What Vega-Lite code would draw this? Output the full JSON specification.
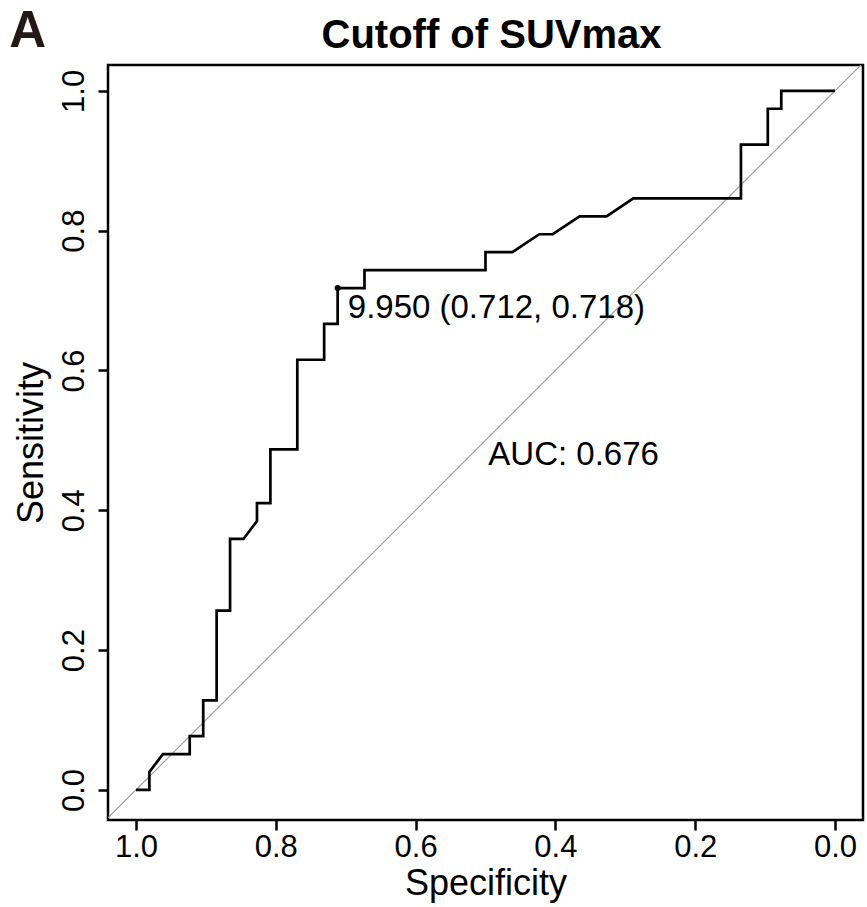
{
  "$schema": "https://vega.github.io/schema/vega-lite/v6.json",
  "width": 755,
  "height": 755,
  "autosize": "none",
  "padding": {"left": 108, "top": 65, "right": 4, "bottom": 87},
  "background": "white",
  "view": {"stroke": "black", "strokeWidth": 2.5, "fill": "white"},
  "config": {"font": "Liberation Sans"},
  "title": {
    "text": "Cutoff of SUVmax",
    "font": "Liberation Sans",
    "fontSize": 40,
    "fontWeight": "bold",
    "color": "black",
    "anchor": "middle",
    "frame": "group",
    "offset": -50,
    "dx": 6
  },
  "datasets": {
    "roc": [
      {"i": 1, "spec": 1.0, "sens": 0.0},
      {"i": 2, "spec": 0.9808, "sens": 0.0},
      {"i": 3, "spec": 0.9808, "sens": 0.0256},
      {"i": 4, "spec": 0.9615, "sens": 0.0513},
      {"i": 5, "spec": 0.9231, "sens": 0.0513},
      {"i": 6, "spec": 0.9231, "sens": 0.0769},
      {"i": 7, "spec": 0.9038, "sens": 0.0769},
      {"i": 8, "spec": 0.9038, "sens": 0.1282},
      {"i": 9, "spec": 0.8846, "sens": 0.1282},
      {"i": 10, "spec": 0.8846, "sens": 0.2564},
      {"i": 11, "spec": 0.8654, "sens": 0.2564},
      {"i": 12, "spec": 0.8654, "sens": 0.359},
      {"i": 13, "spec": 0.8462, "sens": 0.359},
      {"i": 14, "spec": 0.8269, "sens": 0.3846},
      {"i": 15, "spec": 0.8269, "sens": 0.4103},
      {"i": 16, "spec": 0.8077, "sens": 0.4103},
      {"i": 17, "spec": 0.8077, "sens": 0.4872},
      {"i": 18, "spec": 0.7692, "sens": 0.4872},
      {"i": 19, "spec": 0.7692, "sens": 0.6154},
      {"i": 20, "spec": 0.7308, "sens": 0.6154},
      {"i": 21, "spec": 0.7308, "sens": 0.6667},
      {"i": 22, "spec": 0.7115, "sens": 0.6667},
      {"i": 23, "spec": 0.7115, "sens": 0.7179},
      {"i": 24, "spec": 0.6731, "sens": 0.7179},
      {"i": 25, "spec": 0.6731, "sens": 0.7436},
      {"i": 26, "spec": 0.5, "sens": 0.7436},
      {"i": 27, "spec": 0.5, "sens": 0.7692},
      {"i": 28, "spec": 0.4615, "sens": 0.7692},
      {"i": 29, "spec": 0.4231, "sens": 0.7949},
      {"i": 30, "spec": 0.4038, "sens": 0.7949},
      {"i": 31, "spec": 0.3654, "sens": 0.8205},
      {"i": 32, "spec": 0.3269, "sens": 0.8205},
      {"i": 33, "spec": 0.2885, "sens": 0.8462},
      {"i": 34, "spec": 0.1346, "sens": 0.8462},
      {"i": 35, "spec": 0.1346, "sens": 0.9231},
      {"i": 36, "spec": 0.0962, "sens": 0.9231},
      {"i": 37, "spec": 0.0962, "sens": 0.9744},
      {"i": 38, "spec": 0.0769, "sens": 0.9744},
      {"i": 39, "spec": 0.0769, "sens": 1.0},
      {"i": 40, "spec": 0.0, "sens": 1.0}
    ],
    "diag": [
      {"i": 1, "spec": 1.04, "sens": -0.04},
      {"i": 2, "spec": -0.04, "sens": 1.04}
    ],
    "best": [
      {"spec": 0.7115, "sens": 0.7179}
    ],
    "labels": [
      {"spec": 0.697, "sens": 0.675, "label": "9.950 (0.712, 0.718)"},
      {"spec": 0.496, "sens": 0.465, "label": "AUC: 0.676"}
    ],
    "panel": [
      {"spec": 1.155, "sens": 1.0848, "label": "A"}
    ]
  },
  "encoding": {
    "x": {
      "field": "spec",
      "type": "quantitative",
      "scale": {"domain": [-0.04, 1.04], "reverse": true, "nice": false, "zero": false},
      "axis": {
        "title": "Specificity",
        "values": [0, 0.2, 0.4, 0.6, 0.8, 1.0],
        "format": ".1f",
        "grid": false,
        "domain": false,
        "ticks": true,
        "tickSize": 10,
        "tickWidth": 2.5,
        "tickColor": "black",
        "labelFont": "Liberation Sans",
        "labelFontSize": 31,
        "labelColor": "black",
        "labelPadding": 2,
        "labelFlush": false,
        "labelOverlap": false,
        "titleFont": "Liberation Sans",
        "titleFontSize": 36,
        "titleFontWeight": "normal",
        "titleColor": "black",
        "titlePadding": 4
      }
    },
    "y": {
      "field": "sens",
      "type": "quantitative",
      "scale": {"domain": [-0.043, 1.037], "nice": false, "zero": false},
      "axis": {
        "title": "Sensitivity",
        "values": [0, 0.2, 0.4, 0.6, 0.8, 1.0],
        "format": ".1f",
        "grid": false,
        "domain": false,
        "ticks": true,
        "tickSize": 10,
        "tickWidth": 2.5,
        "tickColor": "black",
        "labelFont": "Liberation Sans",
        "labelFontSize": 31,
        "labelColor": "black",
        "labelAngle": -90,
        "labelAlign": "center",
        "labelBaseline": "bottom",
        "labelPadding": 8,
        "labelFlush": false,
        "labelOverlap": false,
        "titleFont": "Liberation Sans",
        "titleFontSize": 36,
        "titleFontWeight": "normal",
        "titleColor": "black",
        "titlePadding": 8
      }
    }
  },
  "layer": [
    {
      "data": {"name": "diag"},
      "mark": {"type": "line", "color": "#a0a0a0", "strokeWidth": 1.2, "clip": true},
      "encoding": {"order": {"field": "i"}}
    },
    {
      "data": {"name": "roc"},
      "mark": {"type": "line", "color": "black", "strokeWidth": 2.7, "strokeJoin": "miter", "strokeCap": "butt"},
      "encoding": {"order": {"field": "i"}}
    },
    {
      "data": {"name": "best"},
      "mark": {"type": "point", "filled": true, "color": "black", "size": 36, "opacity": 1}
    },
    {
      "data": {"name": "labels"},
      "mark": {"type": "text", "align": "left", "baseline": "alphabetic", "fontSize": 33, "font": "Liberation Sans", "color": "black"},
      "encoding": {"text": {"field": "label"}}
    },
    {
      "data": {"name": "panel"},
      "mark": {"type": "text", "align": "center", "baseline": "middle", "fontSize": 51, "fontWeight": "bold", "font": "Liberation Sans", "color": "#231815"},
      "encoding": {"text": {"field": "label"}}
    }
  ]
}
